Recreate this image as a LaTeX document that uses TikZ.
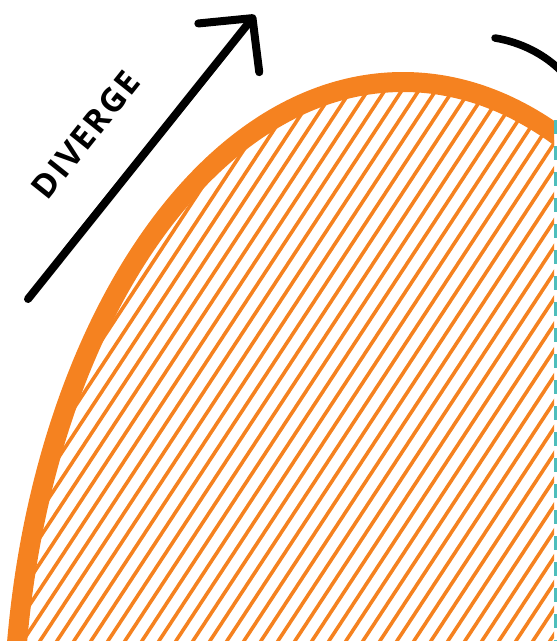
\documentclass[tikz,border=0pt]{standalone}
\usepackage{fontspec}
\newfontfamily\labelfont[LetterSpace=6]{Open Sans}
\definecolor{domeorange}{RGB}{245,130,32}
\definecolor{edgeteal}{RGB}{77,190,188}
\usetikzlibrary{arrows.meta}

\begin{document}
\begin{tikzpicture}[x=1pt,y=-1pt,
    divline/.style={line width=8pt, line cap=round, -{Straight Barb[length=38pt,width=78pt,round]}},
    hatchline/.style={domeorange, line width=3.6pt},
    domeedge/.style={domeorange, line width=20pt},
    tealedge/.style={edgeteal, line width=3pt, dash pattern=on 14pt off 12pt}]
    \useasboundingbox (0,0) rectangle (557,641);
    \clip (0,0) rectangle (557,641);
    \coordinate (domecentre) at (403,737);
    \begin{scope}
      \clip (0,0) rectangle (554,641);
      \begin{scope}
        \clip (domecentre) ellipse [x radius=390, y radius=655];
        \foreach \k in {-30,...,34}
          \draw[hatchline] (\k*17,650) -- ++(470,-715);
      \end{scope}
      \draw[domeedge] (domecentre) ellipse [x radius=390, y radius=655];
    \end{scope}
    \coordinate (tealtop) at (555.5,120);
    \coordinate (tealfoot) at (555.5,645);
    \draw[tealedge] (tealtop) -- (tealfoot);
    \coordinate (divtail) at (28,299);
    \coordinate (divtip) at (255,15);
    \draw[divline] (divtail) -- (divtip);
    \node[font=\labelfont\bfseries\fontsize{33}{33}\selectfont, rotate=51.4, anchor=base] (divlabel) at (95,142) {DIVERGE};
    \coordinate (convstart) at (495,38);
    \coordinate (convend) at (563,73);
    \draw[line width=7.5pt, line cap=round] (convstart) .. controls (520,42) and (545,54) .. (convend);
  \end{tikzpicture}
\end{document}
